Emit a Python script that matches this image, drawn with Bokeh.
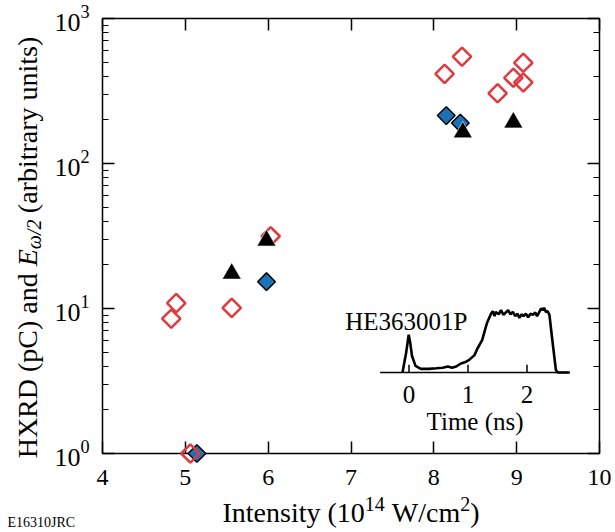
import math
from bokeh.plotting import figure
from bokeh.models import (Range1d, LinearAxis, LogAxis, FixedTicker,
                          LinearScale, CustomJSTickFormatter)
from bokeh.core.properties import value
from bokeh.embed import file_html
from bokeh.resources import INLINE

FONT = "Liberation Serif"

# ---------------- data ----------------
x_ticks = [4, 5, 6, 7, 8, 9, 10]

# E_omega/2 (red open diamonds)
red_x = [4.83, 4.89, 5.06, 5.56, 6.03, 8.13, 8.34, 8.77, 8.96, 9.08, 9.08]
red_y = [8.5, 10.9, 1.0, 10.1, 31.5, 415, 545, 305, 390, 495, 362]
# HXRD (blue filled diamonds)
blue_x = [5.14, 5.98, 8.15, 8.32]
blue_y = [1.0, 15.3, 214, 190]
# black triangles
tri_x = [5.56, 5.98, 8.35, 8.96]
tri_y = [17.4, 29.4, 164, 192]

# inset: laser pulse shape HE363001P
pulse_t = [-0.11, -0.05, -0.005, 0.02, 0.05, 0.11, 0.20, 0.34, 0.46, 0.57,
           0.66, 0.73, 0.80, 0.88, 0.97, 1.02, 1.11, 1.16, 1.24, 1.28,
           1.32, 1.39, 1.42, 1.45, 1.47, 1.52, 1.56, 1.60, 1.64, 1.68,
           1.72, 1.76, 1.80, 1.84, 1.87, 1.91, 1.94, 1.98, 2.02, 2.06,
           2.10, 2.14, 2.17, 2.21, 2.24, 2.27, 2.29, 2.32, 2.35, 2.38,
           2.44, 2.49, 2.52, 2.72]
pulse_a = [0.0, 0.32, 0.63, 0.50, 0.28, 0.11, 0.06, 0.06, 0.07, 0.08,
           0.10, 0.08, 0.10, 0.15, 0.18, 0.21, 0.29, 0.40, 0.54, 0.68,
           0.82, 0.98, 1.02, 0.94, 1.01, 0.97, 1.04, 0.96, 1.00, 1.04,
           0.97, 1.01, 0.94, 0.98, 0.91, 0.97, 0.94, 0.98, 0.92, 0.98,
           0.96, 1.00, 0.94, 1.01, 1.07, 1.04, 1.08, 1.01, 1.02, 0.96,
           0.45, 0.04, 0.0, 0.0]
inset_ticks = [0, 1, 2]
inset_t_span = [-0.49, 2.73]
pulse_name = "HE363001P"

# ---------------- figure ----------------
W, H = 615, 532
FL, FR, FT, FB = 102, 16, 18, 79          # frame margins
frame_w = W - FL - FR
frame_h = H - FT - FB

p = figure(width=W, height=H, x_range=Range1d(4, 10), y_range=Range1d(1, 1000),
           y_axis_type="log", output_backend="svg", toolbar_location=None,
           min_border_left=FL, min_border_right=FR, min_border_top=FT,
           min_border_bottom=FB)
p.grid.visible = False
p.outline_line_color = "black"
p.outline_line_width = 1.5
p.background_fill_color = "white"
p.border_fill_color = "white"


def style_axis(ax, labels=True, minor=True, size="24px"):
    ax.axis_line_color = None
    ax.major_tick_in = 12
    ax.major_tick_out = 0
    ax.minor_tick_in = 6
    ax.minor_tick_out = 0
    ax.major_tick_line_color = "black"
    ax.major_tick_line_width = 1.5
    ax.minor_tick_line_color = "black" if minor else None
    ax.minor_tick_line_width = 1.2
    ax.major_label_text_font = FONT
    ax.major_label_text_font_size = size
    ax.major_label_text_color = "black"
    if not labels:
        ax.formatter = CustomJSTickFormatter(code="return ''")
        ax.major_label_standoff = 0


p.xaxis.ticker = FixedTicker(ticks=x_ticks, minor_ticks=[])
style_axis(p.xaxis[0], minor=False)
p.xaxis.major_label_standoff = 16
style_axis(p.yaxis[0], size="26px")
p.yaxis.major_label_standoff = 13

top = LinearAxis(ticker=FixedTicker(ticks=x_ticks, minor_ticks=[]))
style_axis(top, labels=False, minor=False)
p.add_layout(top, "above")
right = LogAxis()
style_axis(right, labels=False)
p.add_layout(right, "right")

# ---------------- scatter ----------------
r2 = p.scatter(blue_x, blue_y, marker="square", angle=math.pi / 4, size=12.5,
               fill_color="#1a72b9", line_color="black", line_width=1.5)
r1 = p.scatter(red_x, red_y, marker="square", angle=math.pi / 4, size=13,
               fill_color=None, line_color="#e03a3e", line_width=2.5)
r3 = p.scatter(tri_x, tri_y, marker="triangle", size=19,
               fill_color="black", line_color="white", line_width=0.6)
for r in (r2, r1, r3):
    r.level = "overlay"

# ---------------- extra coordinate systems ----------------
t0_px, px_per_ns = 408.5, 59.0     # canvas x of t=0, pixels per ns
base_px, px_per_amp = 372.0, 60.0  # canvas y of baseline, pixels per unit
p.extra_x_ranges = {"t": Range1d((FL - t0_px) / px_per_ns,
                                 (FL + frame_w - t0_px) / px_per_ns),
                    "px": Range1d(FL, FL + frame_w)}
p.extra_y_ranges = {"a": Range1d((base_px - (FT + frame_h)) / px_per_amp,
                                 (base_px - FT) / px_per_amp),
                    "py": Range1d(FT + frame_h, FT)}
p.extra_x_scales = {"t": LinearScale(), "px": LinearScale()}
p.extra_y_scales = {"a": LinearScale(), "py": LinearScale()}

# ---------------- inset (pulse shape) ----------------
ins = dict(x_range_name="t", y_range_name="a")
p.segment(x0=[inset_t_span[0]], y0=[0], x1=[inset_t_span[1]], y1=[0],
          line_color="black", line_width=1.6, **ins)
p.segment(x0=inset_ticks, y0=[0] * len(inset_ticks), x1=inset_ticks,
          y1=[0.13] * len(inset_ticks), line_color="black", line_width=1.5, **ins)
p.line(pulse_t, pulse_a, line_color="black", line_width=2.6, **ins)
p.text(x=inset_ticks, y=[-0.36] * len(inset_ticks),
       text=[str(t) for t in inset_ticks], text_align="center",
       text_baseline="alphabetic", text_font=value(FONT),
       text_font_size=value("25px"), text_color="black", **ins)
p.text(x=[sum(inset_t_span) / 2], y=[-0.81], text=["Time (ns)"],
       text_align="center", text_baseline="alphabetic", text_font=value(FONT),
       text_font_size=value("25px"), text_color="black", **ins)
p.text(x=[0.99], y=[0.85], text=[pulse_name], text_align="right",
       text_baseline="alphabetic", text_font=value(FONT),
       text_font_size=value("25px"), text_color="black", **ins)

# ---------------- rich axis labels (pixel coordinates) ----------------
WID = {' ': 0.25, '(': 0.333, ')': 0.333, '/': 0.278, 'I': 0.333, 'n': 0.5,
       't': 0.278, 'e': 0.444, 's': 0.389, 'i': 0.278, 'y': 0.5, 'W': 0.944,
       'c': 0.444, 'm': 0.778, 'H': 0.722, 'X': 0.722, 'R': 0.667, 'D': 0.722,
       'p': 0.5, 'C': 0.667, 'a': 0.444, 'd': 0.5, 'r': 0.333, 'b': 0.5,
       'u': 0.5, 'E': 0.611, 'ω': 0.67}


def tw(s, size):
    return sum(WID.get(ch, 0.5) for ch in s) * size


def add_pieces(pieces, cx, cy, vertical=False):
    """pieces: (text, size, raise, style); (cx, cy) = canvas centre of baseline."""
    total = sum(tw(t, s) for t, s, _, _ in pieces)
    pos = -total / 2
    for txt, size, shift, style in pieces:
        body = txt.lstrip(" ")
        pos += tw(txt[:len(txt) - len(body)], size)   # leading spaces
        if vertical:
            gx, gy, ang = cx - shift, cy - pos, math.pi / 2
        else:
            gx, gy, ang = cx + pos, cy - shift, 0
        r = p.text(x=[gx], y=[gy], text=[body], angle=ang, text_align="left",
                   text_baseline="alphabetic", text_font=value(FONT),
                   text_font_size=value(f"{size}px"),
                   text_font_style=style, text_color="black",
                   x_range_name="px", y_range_name="py")
        r.level = "overlay"
        pos += tw(body, size)


add_pieces([("Intensity (10", 28, 0, "normal"), ("14", 20, 9, "normal"),
            (" W/cm", 28, 0, "normal"), ("2", 20, 9, "normal"),
            (")", 28, 0, "normal")], FL + frame_w / 2, 512)
add_pieces([("HXRD (pC) and ", 28, 0, "normal"), ("E", 28, 0, "italic"),
            ("ω/2", 20, -6, "italic"), (" (arbitrary units)", 28, 0, "normal")],
           27, 247, vertical=True)
add_pieces([("E16310JRC", 14, 0, "normal")], 7 + tw("E16310JRC", 14) / 2, 522)

open("out.html", "w").write(file_html(p, INLINE))
